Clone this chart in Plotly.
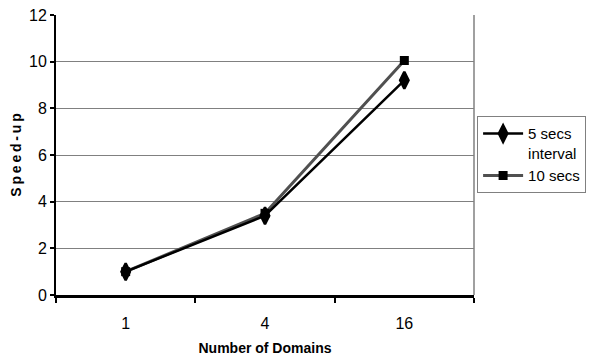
import plotly.graph_objects as go

domains = ["1", "4", "16"]
speedup_5s = [1.0, 3.4, 9.2]
speedup_10s = [1.0, 3.5, 10.05]
series_names = ["5 secs<br>interval", "10 secs"]
y_ticks = [0, 2, 4, 6, 8, 10, 12]

FONT = "Liberation Sans, Arial, sans-serif"
TS = "\u2009"

fig = go.Figure()
fig.add_trace(go.Scatter(
    x=domains, y=speedup_10s, name=series_names[1], mode="lines+markers",
    line=dict(color="#505050", width=3),
    marker=dict(symbol="square", size=9, color="black"),
))
fig.add_trace(go.Scatter(
    x=domains, y=speedup_5s, name=series_names[0], mode="lines+markers",
    line=dict(color="black", width=2.5),
    marker=dict(symbol="diamond-tall", size=12, color="black",
                line=dict(color="black", width=2.5)),
))

fig.update_layout(
    width=597, height=356,
    margin=dict(l=56, r=122, t=15, b=61),
    paper_bgcolor="white", plot_bgcolor="white",
    font=dict(family=FONT, size=13, color="black"),
    showlegend=True,
    legend=dict(
        x=1.005, xanchor="left", y=0.638, yanchor="top",
        bordercolor="#808080", borderwidth=1, bgcolor="white",
        traceorder="reversed", font=dict(size=15), valign="top",
        itemwidth=40, tracegroupgap=0,
    ),
    xaxis=dict(
        type="category", range=[-0.5, 2.5], automargin=False,
        showline=True, linecolor="black", linewidth=3,
        ticks="outside", tickson="boundaries", ticklen=5, tickwidth=2, tickcolor="black",
        ticklabelstandoff=12,
        showgrid=False, zeroline=False, tickfont=dict(size=16),
        title=dict(text="<b>Number of Domains</b>", font=dict(size=14), standoff=12),
    ),
    yaxis=dict(
        range=[0, 12], tickvals=y_ticks, automargin=False,
        showline=True, linecolor="black", linewidth=2,
        ticks="outside", ticklen=4, tickwidth=2, tickcolor="black",
        showgrid=True, gridcolor="#808080", gridwidth=1, zeroline=False,
        title=dict(text="<b>" + TS.join("Speed-up") + "</b>", font=dict(size=14), standoff=4),
        tickfont=dict(size=16),
    ),
)
fig.add_shape(type="line", xref="paper", yref="paper", x0=1, x1=1, y0=0, y1=1,
              line=dict(color="#808080", width=1.5))

fig.write_html("out.html", config={"displayModeBar": False},
               post_script="document.body.style.margin='0';")
